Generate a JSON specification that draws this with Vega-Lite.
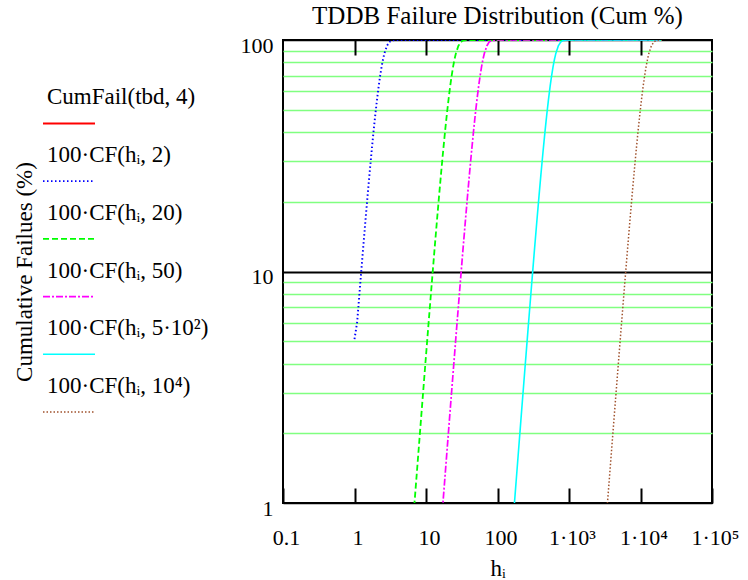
{
  "$schema": "https://vega.github.io/schema/vega-lite/v6.json",
  "background": "white",
  "padding": {"left": 13, "top": 3, "right": 5, "bottom": 5},
  "bounds": "flush",
  "spacing": 55,
  "config": {
    "font": "Liberation Serif, Times New Roman, DejaVu Serif, serif",
    "view": {"stroke": "black", "strokeWidth": 2},
    "axis": {"labelFont": "Liberation Serif, Times New Roman, DejaVu Serif, serif", "titleFont": "Liberation Serif, Times New Roman, DejaVu Serif, serif", "labelColor": "black", "titleColor": "black", "titleFontWeight": "normal", "labelFontSize": 22, "titleFontSize": 23},
    "title": {"font": "Liberation Serif, Times New Roman, DejaVu Serif, serif", "fontSize": 25, "fontWeight": "normal", "color": "black"}
  },
  "datasets": {
    "legend": [
      {"k": "tbd", "n": 1, "lab": "CumFail(tbd, 4)"},
      {"k": "s2", "n": 2, "lab": "100·CF(hᵢ, 2)"},
      {"k": "s20", "n": 3, "lab": "100·CF(hᵢ, 20)"},
      {"k": "s50", "n": 4, "lab": "100·CF(hᵢ, 50)"},
      {"k": "s500", "n": 5, "lab": "100·CF(hᵢ, 5·10²)"},
      {"k": "s1e4", "n": 6, "lab": "100·CF(hᵢ, 10⁴)"}
    ],
    "early": [
      {"k": "s2", "h": 1.0, "F": 5.1}, {"k": "s2", "h": 1.09, "F": 6.059}, {"k": "s2", "h": 1.199, "F": 8.744}, {"k": "s2", "h": 1.308, "F": 12.156}, {"k": "s2", "h": 1.417, "F": 16.348}, {"k": "s2", "h": 1.526, "F": 21.344}, {"k": "s2", "h": 1.635, "F": 27.122}, {"k": "s2", "h": 1.744, "F": 33.608}, {"k": "s2", "h": 1.853, "F": 40.667}, {"k": "s2", "h": 1.962, "F": 48.113}, {"k": "s2", "h": 2.071, "F": 55.713}, {"k": "s2", "h": 2.18, "F": 63.212}, {"k": "s2", "h": 2.289, "F": 70.344}, {"k": "s2", "h": 2.398, "F": 76.871}, {"k": "s2", "h": 2.507, "F": 82.605}, {"k": "s2", "h": 2.616, "F": 87.427}, {"k": "s2", "h": 2.834, "F": 94.25}, {"k": "s2", "h": 3.052, "F": 97.854}, {"k": "s2", "h": 3.27, "F": 99.367}, {"k": "s2", "h": 3.706, "F": 99.976}, {"k": "s2", "h": 4.36, "F": 100}, {"k": "s2", "h": 20000, "F": 100},
      {"k": "s20", "h": 6.54, "F": 0.807}, {"k": "s20", "h": 7.63, "F": 1.489}, {"k": "s20", "h": 8.72, "F": 2.528}, {"k": "s20", "h": 9.81, "F": 4.018}, {"k": "s20", "h": 10.9, "F": 6.059}, {"k": "s20", "h": 11.99, "F": 8.744}, {"k": "s20", "h": 13.08, "F": 12.156}, {"k": "s20", "h": 14.17, "F": 16.348}, {"k": "s20", "h": 15.26, "F": 21.344}, {"k": "s20", "h": 16.35, "F": 27.122}, {"k": "s20", "h": 17.44, "F": 33.608}, {"k": "s20", "h": 18.53, "F": 40.667}, {"k": "s20", "h": 19.62, "F": 48.113}, {"k": "s20", "h": 20.71, "F": 55.713}, {"k": "s20", "h": 21.8, "F": 63.212}, {"k": "s20", "h": 22.89, "F": 70.344}, {"k": "s20", "h": 23.98, "F": 76.871}, {"k": "s20", "h": 25.07, "F": 82.605}, {"k": "s20", "h": 26.16, "F": 87.427}, {"k": "s20", "h": 28.34, "F": 94.25}, {"k": "s20", "h": 30.52, "F": 97.854}, {"k": "s20", "h": 32.7, "F": 99.367}, {"k": "s20", "h": 37.06, "F": 99.976}, {"k": "s20", "h": 43.6, "F": 100}, {"k": "s20", "h": 20000, "F": 100},
      {"k": "s50", "h": 16.35, "F": 0.807}, {"k": "s50", "h": 19.08, "F": 1.489}, {"k": "s50", "h": 21.8, "F": 2.528}, {"k": "s50", "h": 24.53, "F": 4.018}, {"k": "s50", "h": 27.25, "F": 6.059}, {"k": "s50", "h": 29.98, "F": 8.744}, {"k": "s50", "h": 32.7, "F": 12.156}, {"k": "s50", "h": 35.43, "F": 16.348}, {"k": "s50", "h": 38.15, "F": 21.344}, {"k": "s50", "h": 40.88, "F": 27.122}, {"k": "s50", "h": 43.6, "F": 33.608}, {"k": "s50", "h": 46.33, "F": 40.667}, {"k": "s50", "h": 49.05, "F": 48.113}, {"k": "s50", "h": 51.78, "F": 55.713}, {"k": "s50", "h": 54.5, "F": 63.212}, {"k": "s50", "h": 57.23, "F": 70.344}, {"k": "s50", "h": 59.95, "F": 76.871}, {"k": "s50", "h": 62.68, "F": 82.605}, {"k": "s50", "h": 65.4, "F": 87.427}, {"k": "s50", "h": 70.85, "F": 94.25}, {"k": "s50", "h": 76.3, "F": 97.854}, {"k": "s50", "h": 81.75, "F": 99.367}, {"k": "s50", "h": 92.65, "F": 99.976}, {"k": "s50", "h": 109, "F": 100}, {"k": "s50", "h": 20000, "F": 100}
    ],
    "late": [
      {"k": "s500", "h": 163.5, "F": 0.807}, {"k": "s500", "h": 190.8, "F": 1.489}, {"k": "s500", "h": 218, "F": 2.528}, {"k": "s500", "h": 245.3, "F": 4.018}, {"k": "s500", "h": 272.5, "F": 6.059}, {"k": "s500", "h": 299.8, "F": 8.744}, {"k": "s500", "h": 327, "F": 12.156}, {"k": "s500", "h": 354.3, "F": 16.348}, {"k": "s500", "h": 381.5, "F": 21.344}, {"k": "s500", "h": 408.8, "F": 27.122}, {"k": "s500", "h": 436, "F": 33.608}, {"k": "s500", "h": 463.3, "F": 40.667}, {"k": "s500", "h": 490.5, "F": 48.113}, {"k": "s500", "h": 517.8, "F": 55.713}, {"k": "s500", "h": 545, "F": 63.212}, {"k": "s500", "h": 572.3, "F": 70.344}, {"k": "s500", "h": 599.5, "F": 76.871}, {"k": "s500", "h": 626.8, "F": 82.605}, {"k": "s500", "h": 654, "F": 87.427}, {"k": "s500", "h": 708.5, "F": 94.25}, {"k": "s500", "h": 763, "F": 97.854}, {"k": "s500", "h": 817.5, "F": 99.367}, {"k": "s500", "h": 926.5, "F": 99.976}, {"k": "s500", "h": 1090, "F": 100}, {"k": "s500", "h": 20000, "F": 100},
      {"k": "s1e4", "h": 3270, "F": 0.807}, {"k": "s1e4", "h": 3815, "F": 1.489}, {"k": "s1e4", "h": 4360, "F": 2.528}, {"k": "s1e4", "h": 4905, "F": 4.018}, {"k": "s1e4", "h": 5450, "F": 6.059}, {"k": "s1e4", "h": 5995, "F": 8.744}, {"k": "s1e4", "h": 6540, "F": 12.156}, {"k": "s1e4", "h": 7085, "F": 16.348}, {"k": "s1e4", "h": 7630, "F": 21.344}, {"k": "s1e4", "h": 8175, "F": 27.122}, {"k": "s1e4", "h": 8720, "F": 33.608}, {"k": "s1e4", "h": 9265, "F": 40.667}, {"k": "s1e4", "h": 9810, "F": 48.113}, {"k": "s1e4", "h": 10355, "F": 55.713}, {"k": "s1e4", "h": 10900, "F": 63.212}, {"k": "s1e4", "h": 11445, "F": 70.344}, {"k": "s1e4", "h": 11990, "F": 76.871}, {"k": "s1e4", "h": 12535, "F": 82.605}, {"k": "s1e4", "h": 13080, "F": 87.427}, {"k": "s1e4", "h": 14170, "F": 94.25}, {"k": "s1e4", "h": 15260, "F": 97.854}, {"k": "s1e4", "h": 16350, "F": 99.367}, {"k": "s1e4", "h": 18530, "F": 99.976}, {"k": "s1e4", "h": 20000, "F": 100}
    ]
  },
  "hconcat": [
    {
      "width": 185,
      "height": 463,
      "view": {"stroke": null},
      "data": {"name": "legend"},
      "encoding": {
        "y": {"field": "n", "type": "quantitative", "scale": {"domain": [-0.446, 7.578], "reverse": true, "nice": false, "zero": false}, "axis": {"title": "Cumulative Failues (%)", "labels": false, "ticks": false, "domain": false, "grid": false, "titlePadding": 7}}
      },
      "layer": [
        {
          "mark": {"type": "rule"},
          "encoding": {
            "x": {"datum": 0, "type": "quantitative", "scale": {"domain": [0, 185], "nice": false, "zero": false}, "axis": null},
            "x2": {"datum": 52},
            "color": {"field": "k", "type": "nominal", "scale": {"domain": ["tbd", "s2", "s20", "s50", "s500", "s1e4"], "range": ["#ff0000", "#0000ff", "#00ff00", "#ff00ff", "#00ffff", "#a0522d"]}, "legend": null},
            "strokeDash": {"field": "k", "type": "nominal", "scale": {"domain": ["tbd", "s2", "s20", "s50", "s500", "s1e4"], "range": [[1, 0], [1.5, 2.5], [6, 3], [7, 2, 2, 2], [1, 0], [1.5, 2]]}, "legend": null},
            "strokeWidth": {"field": "k", "type": "nominal", "scale": {"domain": ["tbd", "s2", "s20", "s50", "s500", "s1e4"], "range": [2, 1.5, 2, 2, 2, 1.5]}, "legend": null}
          }
        },
        {
          "mark": {"type": "text", "align": "left", "baseline": "alphabetic", "dy": -19, "fontSize": 23, "color": "black"},
          "encoding": {
            "x": {"datum": 4, "type": "quantitative"},
            "text": {"field": "lab", "type": "nominal"}
          }
        }
      ]
    },
    {
      "width": 429,
      "height": 463,
      "title": {"text": "TDDB Failure Distribution (Cum %)", "offset": 5},
      "encoding": {
        "y": {"field": "F", "type": "quantitative", "scale": {"type": "log", "domain": [1, 100], "nice": false}, "axis": {"values": [1, 2, 3, 4, 5, 6, 7, 8, 9, 10, 20, 30, 40, 50, 60, 70, 80, 90, 100], "labelExpr": "datum.value === 1 ? '1' : datum.value === 10 ? '10' : datum.value === 100 ? '100' : ''", "ticks": false, "domain": false, "grid": true, "gridOpacity": 1, "gridColor": {"condition": {"test": "datum.value === 10 || datum.value === 1 || datum.value === 100", "value": "black"}, "value": "#80ff80"}, "gridWidth": {"condition": {"test": "datum.value === 10", "value": 2}, "value": 1.5}, "labelPadding": 10, "labelOffset": 5, "labelBaseline": "middle", "labelOverlap": false, "title": null}},
        "color": {"field": "k", "type": "nominal", "scale": {"domain": ["tbd", "s2", "s20", "s50", "s500", "s1e4"], "range": ["#ff0000", "#0000ff", "#00ff00", "#ff00ff", "#00ffff", "#a0522d"]}, "legend": null},
        "strokeDash": {"field": "k", "type": "nominal", "scale": {"domain": ["tbd", "s2", "s20", "s50", "s500", "s1e4"], "range": [[1, 0], [1.5, 2.5], [6, 3], [7, 2, 2, 2], [1, 0], [1.5, 2]]}, "legend": null},
        "strokeWidth": {"field": "k", "type": "nominal", "scale": {"domain": ["tbd", "s2", "s20", "s50", "s500", "s1e4"], "range": [2, 1.5, 2, 2, 2, 1.5]}, "legend": null}
      },
      "layer": [
        {
          "data": {"name": "early"},
          "mark": {"type": "line", "clip": true},
          "encoding": {
            "x": {"field": "h", "type": "quantitative", "scale": {"type": "log", "domain": [0.1, 100000], "nice": false}, "axis": {"orient": "bottom", "values": [0.1, 1, 10, 100, 1000, 10000, 100000], "labelExpr": "datum.value < 0.5 ? '0.1' : datum.value < 500 ? format(datum.value, 'd') : datum.value < 5000 ? '1·10³' : datum.value < 50000 ? '1·10⁴' : '1·10⁵'", "tickSize": -15, "tickWidth": 2, "tickColor": "black", "domain": false, "grid": false, "labelPadding": 56, "labelBaseline": "alphabetic", "labelOffset": 3, "labelFlush": false, "labelOverlap": false, "labelBound": false, "title": "hᵢ", "titlePadding": 9}}
          }
        },
        {
          "data": {"name": "late"},
          "mark": {"type": "line", "clip": true},
          "encoding": {
            "x": {"field": "h", "type": "quantitative", "scale": {"type": "log", "domain": [0.1, 100000], "nice": false}, "axis": {"orient": "top", "values": [1, 10, 100, 1000, 10000], "tickSize": -15, "tickWidth": 2, "tickColor": "black", "labels": false, "domain": false, "grid": false, "title": null}}
          }
        }
      ],
      "resolve": {"axis": {"x": "independent"}}
    }
  ]
}
